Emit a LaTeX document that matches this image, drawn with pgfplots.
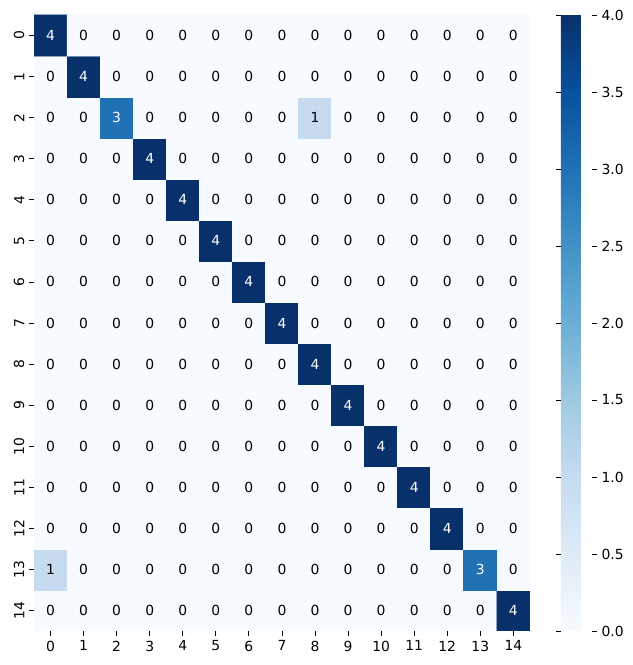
\documentclass[border=0pt]{standalone}
\usepackage{fontspec}
\setmainfont{DejaVu Sans}
\usepackage{pgfplots}
\pgfplotsset{compat=1.18}

\pgfplotsset{
  colormap={blues}{rgb255=(247,251,255) rgb255=(222,235,247) rgb255=(198,219,239)
    rgb255=(158,202,225) rgb255=(107,174,214) rgb255=(66,146,198)
    rgb255=(33,113,181) rgb255=(8,81,156) rgb255=(8,48,107)},
}

\begin{document}
\begin{tikzpicture}
\begin{axis}[
  name=main,
  scale only axis,
  width=357pt, height=443.5pt,
  xmin=-0.5, xmax=14.5, ymin=-0.5, ymax=14.5,
  colormap name=blues,
  point meta min=0, point meta max=4,
  xtick={0,...,14},
  ytick={0,...,14},
  yticklabels={14,13,12,11,10,9,8,7,6,5,4,3,2,1,0},
  yticklabel style={rotate=90, anchor=south},
  xtick pos=lower, ytick pos=left,
  tick align=outside, major tick length=3.5pt,
  tick style={black, line width=0.6pt},
  axis line style={draw=none},
  /pgf/number format/assume math mode=true,
  ticklabel style={font=\normalsize},
  colorbar,
  colorbar shift/.style={},
  colorbar style={
    at={(parent axis.north east)}, anchor=north west, xshift=22.3pt,
    scale only axis,
    width=22.3pt, height=443.5pt,
    ytick={0,0.5,...,4},
    yticklabel style={/pgf/number format/.cd, fixed, fixed zerofill, precision=1, assume math mode=true},
    tick align=outside, major tick length=3.5pt,
    tick style={black, line width=0.6pt},
    axis line style={draw=none},
  },
]
% confusion matrix, row y = 14 - true label
\addplot[matrix plot*, mesh/cols=15, point meta=explicit,
  nodes near coords={\pgfmathfloattoint{\pgfplotspointmeta}\let\v\pgfmathresult\ifnum\v>2 \textcolor{white}{\v}\else\v\fi},
  nodes near coords align=center,
  every node near coord/.append style={font=\normalsize, black},
] coordinates {
(0,0)[0] (1,0)[0] (2,0)[0] (3,0)[0] (4,0)[0] (5,0)[0] (6,0)[0] (7,0)[0] (8,0)[0] (9,0)[0] (10,0)[0] (11,0)[0] (12,0)[0] (13,0)[0] (14,0)[4]
(0,1)[1] (1,1)[0] (2,1)[0] (3,1)[0] (4,1)[0] (5,1)[0] (6,1)[0] (7,1)[0] (8,1)[0] (9,1)[0] (10,1)[0] (11,1)[0] (12,1)[0] (13,1)[3] (14,1)[0]
(0,2)[0] (1,2)[0] (2,2)[0] (3,2)[0] (4,2)[0] (5,2)[0] (6,2)[0] (7,2)[0] (8,2)[0] (9,2)[0] (10,2)[0] (11,2)[0] (12,2)[4] (13,2)[0] (14,2)[0]
(0,3)[0] (1,3)[0] (2,3)[0] (3,3)[0] (4,3)[0] (5,3)[0] (6,3)[0] (7,3)[0] (8,3)[0] (9,3)[0] (10,3)[0] (11,3)[4] (12,3)[0] (13,3)[0] (14,3)[0]
(0,4)[0] (1,4)[0] (2,4)[0] (3,4)[0] (4,4)[0] (5,4)[0] (6,4)[0] (7,4)[0] (8,4)[0] (9,4)[0] (10,4)[4] (11,4)[0] (12,4)[0] (13,4)[0] (14,4)[0]
(0,5)[0] (1,5)[0] (2,5)[0] (3,5)[0] (4,5)[0] (5,5)[0] (6,5)[0] (7,5)[0] (8,5)[0] (9,5)[4] (10,5)[0] (11,5)[0] (12,5)[0] (13,5)[0] (14,5)[0]
(0,6)[0] (1,6)[0] (2,6)[0] (3,6)[0] (4,6)[0] (5,6)[0] (6,6)[0] (7,6)[0] (8,6)[4] (9,6)[0] (10,6)[0] (11,6)[0] (12,6)[0] (13,6)[0] (14,6)[0]
(0,7)[0] (1,7)[0] (2,7)[0] (3,7)[0] (4,7)[0] (5,7)[0] (6,7)[0] (7,7)[4] (8,7)[0] (9,7)[0] (10,7)[0] (11,7)[0] (12,7)[0] (13,7)[0] (14,7)[0]
(0,8)[0] (1,8)[0] (2,8)[0] (3,8)[0] (4,8)[0] (5,8)[0] (6,8)[4] (7,8)[0] (8,8)[0] (9,8)[0] (10,8)[0] (11,8)[0] (12,8)[0] (13,8)[0] (14,8)[0]
(0,9)[0] (1,9)[0] (2,9)[0] (3,9)[0] (4,9)[0] (5,9)[4] (6,9)[0] (7,9)[0] (8,9)[0] (9,9)[0] (10,9)[0] (11,9)[0] (12,9)[0] (13,9)[0] (14,9)[0]
(0,10)[0] (1,10)[0] (2,10)[0] (3,10)[0] (4,10)[4] (5,10)[0] (6,10)[0] (7,10)[0] (8,10)[0] (9,10)[0] (10,10)[0] (11,10)[0] (12,10)[0] (13,10)[0] (14,10)[0]
(0,11)[0] (1,11)[0] (2,11)[0] (3,11)[4] (4,11)[0] (5,11)[0] (6,11)[0] (7,11)[0] (8,11)[0] (9,11)[0] (10,11)[0] (11,11)[0] (12,11)[0] (13,11)[0] (14,11)[0]
(0,12)[0] (1,12)[0] (2,12)[3] (3,12)[0] (4,12)[0] (5,12)[0] (6,12)[0] (7,12)[0] (8,12)[1] (9,12)[0] (10,12)[0] (11,12)[0] (12,12)[0] (13,12)[0] (14,12)[0]
(0,13)[0] (1,13)[4] (2,13)[0] (3,13)[0] (4,13)[0] (5,13)[0] (6,13)[0] (7,13)[0] (8,13)[0] (9,13)[0] (10,13)[0] (11,13)[0] (12,13)[0] (13,13)[0] (14,13)[0]
(0,14)[4] (1,14)[0] (2,14)[0] (3,14)[0] (4,14)[0] (5,14)[0] (6,14)[0] (7,14)[0] (8,14)[0] (9,14)[0] (10,14)[0] (11,14)[0] (12,14)[0] (13,14)[0] (14,14)[0]
};
\end{axis}
% page exactly as in the reference
\pgfresetboundingbox
\path[use as bounding box] ([shift={(-24.5pt,-24.5pt)}]main.south west) rectangle ([shift={(74.2pt,10.8pt)}]main.north east);
\end{tikzpicture}
\end{document}
